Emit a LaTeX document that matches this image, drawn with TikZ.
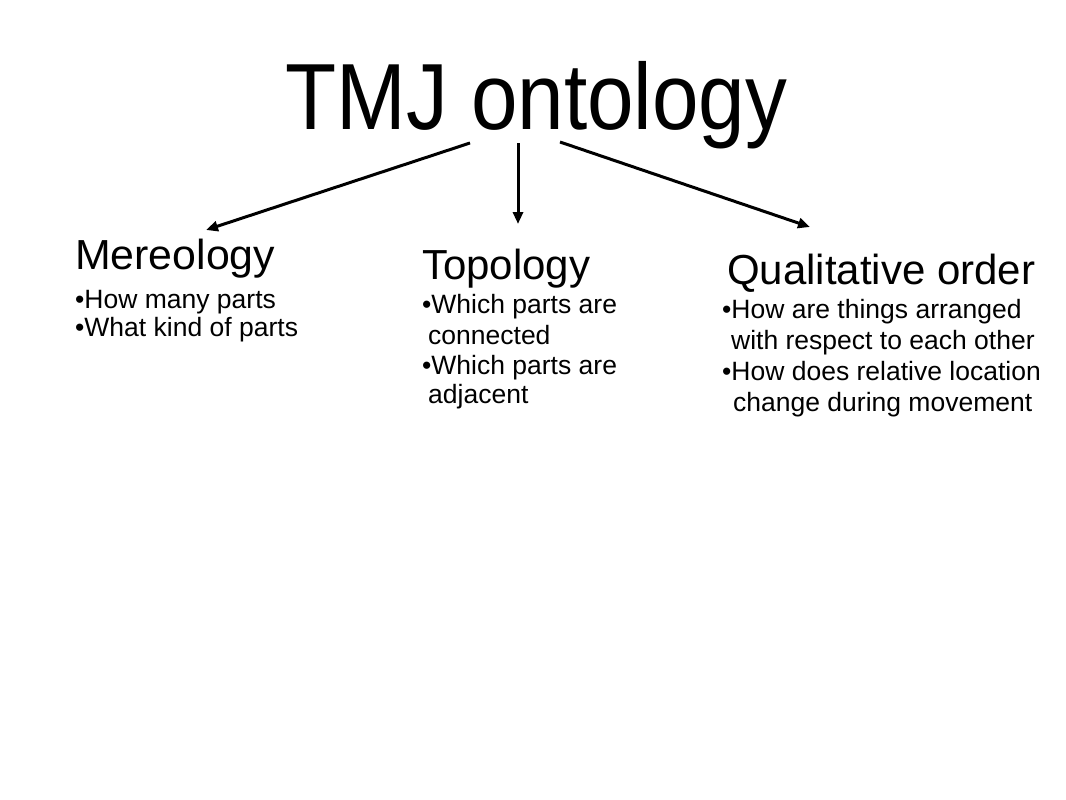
\documentclass[tikz,border=0pt]{standalone}
\usepackage{fontspec}
\usepackage{graphicx}
\setmainfont{Liberation Sans}
\usetikzlibrary{arrows.meta}
\newcommand{\hsc}[2]{\scalebox{#1}[1]{#2}}
\tikzset{
  txt/.style={inner sep=0pt, anchor=base west, text=black},
  title/.style={txt, font=\fontsize{94}{94}\selectfont},
  head/.style={txt, font=\fontsize{42}{42}\selectfont},
  item/.style={txt, font=\fontsize{26.5}{26.5}\selectfont},
  link/.style={line width=3pt, -{Triangle[length=12pt,width=10pt]}}
}
\begin{document}
\begin{tikzpicture}[x=1pt,y=-1pt]
\useasboundingbox[fill=white] (0,0) rectangle (1066,800);
% title
\node[title] (tmj) at (285,129) {\hsc{0.89}{TMJ ontology}};
% Mereology
\node[head] (mer) at (75,269) {\hsc{1.02}{Mereology}};
\node[item] (mer1) at (75,308) {•How many parts};
\node[item] (mer2) at (75,336) {•What kind of parts};
% Topology
\node[head] (top) at (422,279) {Topology};
\node[item] (top1) at (422,313) {•Which parts are};
\node[item] (top2) at (428,344) {connected};
\node[item] (top3) at (422,374) {•Which parts are};
\node[item] (top4) at (428,403) {adjacent};
% Qualitative order
\node[head] (qual) at (727,284) {Qualitative order};
\node[item] (qual1) at (722,318) {•How are things arranged};
\node[item] (qual2) at (731,349) {with respect to each other};
\node[item] (qual3) at (722,380) {•How does relative location};
\node[item] (qual4) at (733,411) {change during movement};
% connectors
\coordinate (s1) at (470,143);
\coordinate (s2) at (518,143);
\coordinate (s3) at (560,142);
\coordinate (e1) at (206,230);
\coordinate (e2) at (518,224);
\coordinate (e3) at (810,227);
\draw[link] (s1) -- (e1);
\draw[link] (s2) -- (e2);
\draw[link] (s3) -- (e3);
\end{tikzpicture}
\end{document}
